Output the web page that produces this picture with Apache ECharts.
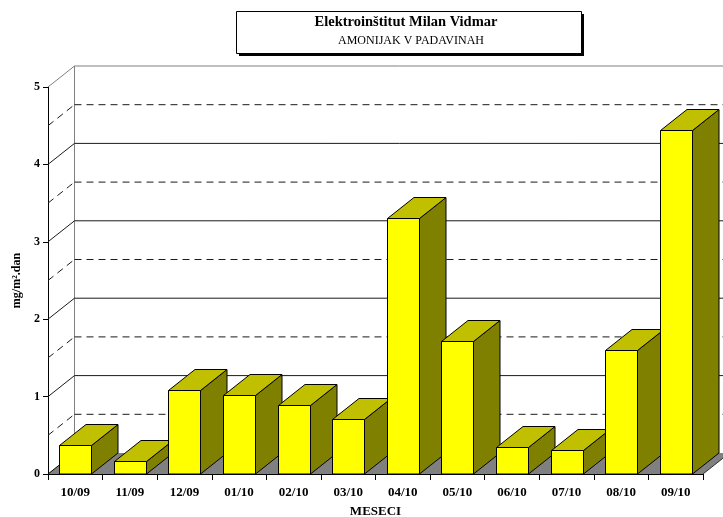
<!DOCTYPE html>
<html>
<head>
<meta charset="utf-8">
<script src="https://cdn.jsdelivr.net/npm/echarts@6/dist/echarts.min.js"></script>
<style>
  html, body { margin: 0; padding: 0; background: #fff; }
  #chart { width: 723px; height: 517px; }
</style>
</head>
<body>
<div id="chart"></div>
<script>
// Monthly ammonia deposition in precipitation (mg/m².dan)
const months = ['10/09', '11/09', '12/09', '01/10', '02/10', '03/10', '04/10', '05/10', '06/10', '07/10', '08/10', '09/10'];
const ammonia = [0.37, 0.17, 1.08, 1.02, 0.89, 0.71, 3.31, 1.72, 0.35, 0.31, 1.60, 4.44];
const yTicks = [0, 1, 2, 3, 4, 5];
const wallLevels = [0.5, 1, 1.5, 2, 2.5, 3, 3.5, 4, 4.5, 5];

// 3D depth offset (pixels) of the back wall / bar backs
const DX = 26.5, DY = -21;
const FONT = "'Liberation Serif', 'Times New Roman', serif";

function line(x1, y1, x2, y2, color, dash) {
  return {
    type: 'line',
    shape: { x1: x1, y1: y1, x2: x2, y2: y2 },
    style: { stroke: color, lineWidth: 1, lineDash: dash || null }
  };
}

// Floor, left wall and back wall of the 3D box
function renderWalls(params, api) {
  const cs = params.coordSys;
  const x0 = cs.x, x1 = cs.x + cs.width;
  const y0 = api.coord([0, yTicks[0]])[1];
  const yTop = api.coord([0, yTicks[yTicks.length - 1]])[1];
  const children = [];
  children.push({
    type: 'polygon',
    shape: { points: [[x0, y0], [x1, y0], [x1 + DX, y0 + DY], [x0 + DX, y0 + DY]] },
    style: { fill: '#808080' }
  });
  children.push(line(x0, y0, x0 + DX, y0 + DY, '#000'));
  children.push(line(x1, y0, x1 + DX, y0 + DY, '#333'));
  children.push(line(x0 + DX, y0 + DY, x0 + DX, yTop + DY, '#808080'));
  wallLevels.forEach(function (v) {
    const y = api.coord([0, v])[1];
    const isTop = v === yTicks[yTicks.length - 1];
    const whole = Number.isInteger(v);
    const color = isTop ? '#808080' : '#1a1a1a';
    const dash = whole ? null : [7, 5];
    children.push(line(x0, y, x0 + DX, y + DY, color, dash));
    children.push(line(x0 + DX, y + DY, x1 + DX + 10, y + DY, color, dash));
  });
  return { type: 'group', children: children };
}

// One 3D column: side face, top face, front face
function renderBar(params, api) {
  const i = api.value(0), v = api.value(1);
  const top = api.coord([i, v]);
  const base = api.coord([i, 0]);
  const w = api.size([1, 0])[0] * 0.585;
  const l = Math.round(top[0] - w / 2) + 0.5;
  const r = Math.round(top[0] + w / 2) + 0.5;
  const t = Math.round(top[1]) + 0.5;
  const b = base[1];
  const edge = { stroke: '#000', lineWidth: 1 };
  return {
    type: 'group',
    children: [
      { type: 'polygon', shape: { points: [[r, t], [r + DX, t + DY], [r + DX, b + DY], [r, b]] },
        style: Object.assign({ fill: '#808000' }, edge) },
      { type: 'polygon', shape: { points: [[l, t], [r, t], [r + DX, t + DY], [l + DX, t + DY]] },
        style: Object.assign({ fill: '#C0C000' }, edge) },
      { type: 'rect', shape: { x: l, y: t, width: r - l, height: b - t },
        style: Object.assign({ fill: '#FFFF00' }, edge) }
    ]
  };
}

const chart = echarts.init(document.getElementById('chart'));
chart.setOption({
  animation: false,
  backgroundColor: '#fff',
  grid: { left: 48, right: 20, top: 87, bottom: 43, containLabel: false, outerBoundsMode: 'none' },
  graphic: [
    { type: 'rect', shape: { x: 239, y: 14, width: 345, height: 42 }, style: { fill: '#000' }, z: 10 },
    { type: 'rect', shape: { x: 236.5, y: 11.5, width: 345, height: 42 }, style: { fill: '#fff', stroke: '#000', lineWidth: 1 }, z: 11 },
    { type: 'text', x: 406, y: 22, z: 12,
      style: { text: 'Elektroinštitut Milan Vidmar', fontFamily: FONT, fontSize: 14.5, fontWeight: 'bold', fill: '#000', align: 'center', verticalAlign: 'middle' } },
    { type: 'text', x: 411, y: 41, z: 12,
      style: { text: 'AMONIJAK V PADAVINAH', fontFamily: FONT, fontSize: 12, fill: '#000', align: 'center', verticalAlign: 'middle' } }
  ],
  xAxis: {
    type: 'category',
    data: months,
    boundaryGap: true,
    name: 'MESECI',
    nameLocation: 'middle',
    nameGap: 31,
    nameTextStyle: { fontFamily: FONT, fontSize: 13, fontWeight: 'bold', color: '#000' },
    axisLine: { show: true, lineStyle: { color: '#000', width: 1 } },
    axisTick: { show: true, interval: 0, length: 6, lineStyle: { color: '#000' } },
    axisLabel: { interval: 0, margin: 12, fontFamily: FONT, fontSize: 13, fontWeight: 'bold', color: '#000' },
    splitLine: { show: false }
  },
  yAxis: {
    type: 'value',
    min: yTicks[0],
    max: yTicks[yTicks.length - 1],
    interval: 1,
    name: 'mg/m².dan',
    nameLocation: 'middle',
    nameGap: 25,
    nameRotate: 90,
    nameTextStyle: { fontFamily: FONT, fontSize: 12, fontWeight: 'bold', color: '#000' },
    axisLine: { show: true, lineStyle: { color: '#000', width: 1 } },
    axisTick: { show: true, length: 5, lineStyle: { color: '#000' } },
    axisLabel: { margin: 8, fontFamily: FONT, fontSize: 12, fontWeight: 'bold', color: '#000' },
    splitLine: { show: false }
  },
  series: [
    {
      type: 'custom',
      name: 'walls',
      renderItem: renderWalls,
      data: [[0, 0]],
      clip: false,
      silent: true,
      z: 1
    },
    {
      type: 'custom',
      name: 'AMONIJAK',
      renderItem: renderBar,
      data: ammonia.map(function (v, i) { return [i, v]; }),
      encode: { x: 0, y: 1 },
      clip: false,
      z: 5
    }
  ]
});
</script>
</body>
</html>
